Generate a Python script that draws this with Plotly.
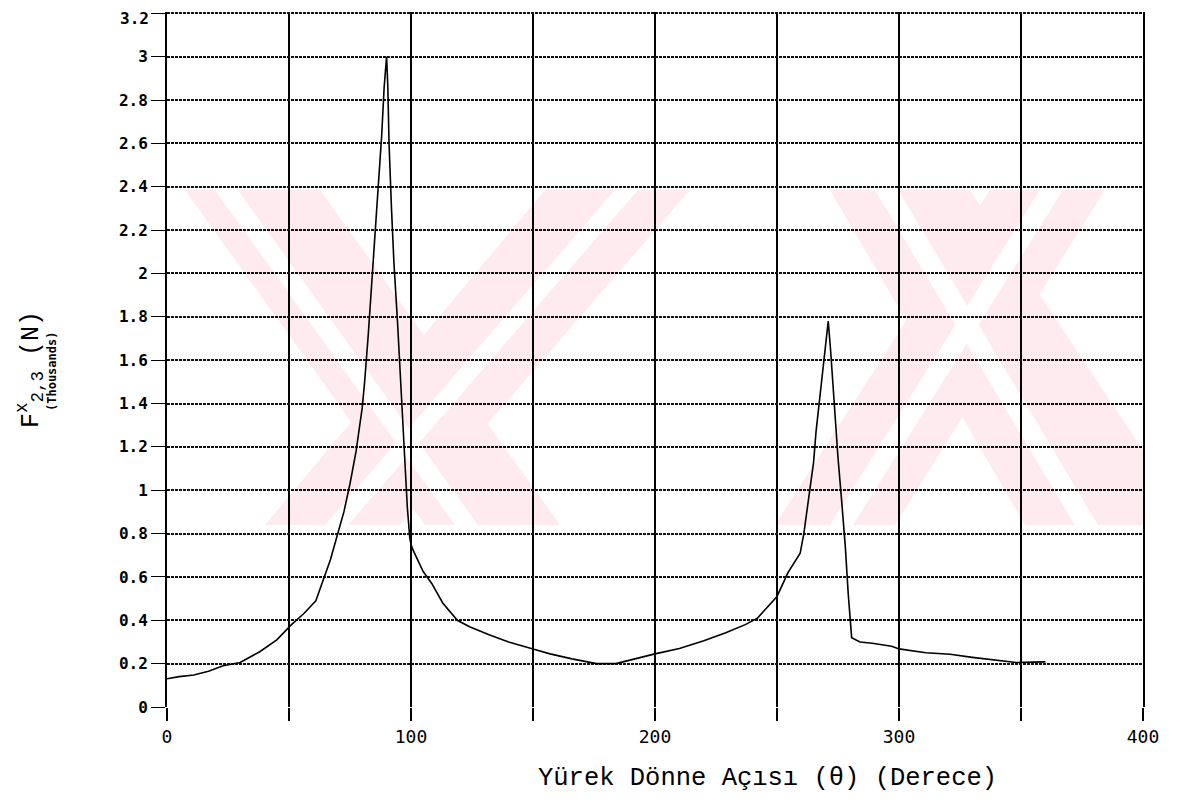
import plotly.graph_objects as go

# Crank angle (deg) and force F^x_{2,3} (thousands of N)
theta = [0, 5, 11, 17, 23, 30, 38, 45, 51, 56, 61, 64, 67, 70, 72.5, 75, 77.5,
         80, 81, 82.5, 84, 85.5, 87, 88, 89, 90,
         90.5, 91, 92, 93, 94.5, 96, 97, 98.5, 99.5, 100, 101, 105, 108.5, 113,
         119, 124, 132, 140, 150, 157, 166, 176, 184, 191, 200, 210, 220, 229,
         237, 242, 250, 254.5, 259.5, 261, 262, 263.5, 265, 266, 267.2, 268.6,
         270, 271, 272, 273.5, 275, 276.5, 278, 279.2, 280.6, 284, 289, 297,
         300, 311, 321, 330, 341, 348, 355, 360]
force = [0.13, 0.14, 0.148, 0.165, 0.19, 0.205, 0.255, 0.31, 0.38, 0.43, 0.49,
         0.59, 0.68, 0.80, 0.90, 1.03, 1.18,
         1.38, 1.5, 1.72, 1.96, 2.2, 2.45, 2.64, 2.86, 3.0,
         2.86, 2.6, 2.3, 2.05, 1.77, 1.46, 1.2, 0.92, 0.78, 0.75, 0.72, 0.625,
         0.57, 0.48, 0.40, 0.37, 0.333, 0.30, 0.268, 0.245, 0.222, 0.20, 0.20,
         0.22, 0.245, 0.27, 0.306, 0.343, 0.38, 0.41, 0.51, 0.62, 0.71, 0.80,
         0.88, 1.0, 1.13, 1.27, 1.39, 1.52, 1.65, 1.78, 1.64, 1.37, 1.15, 0.95,
         0.74, 0.52, 0.32, 0.30, 0.294, 0.28, 0.268, 0.25, 0.243, 0.229, 0.214,
         0.205, 0.207, 0.208]

x_tickvals = [0, 100, 200, 300, 400]
x_ticktext = ["0", "100", "200", "300", "400"]
x_minor_vals = [50, 150, 250, 350]
y_tickvals = [0, 0.2, 0.4, 0.6, 0.8, 1, 1.2, 1.4, 1.6, 1.8, 2, 2.2, 2.4, 2.6,
              2.8, 3, 3.2]
y_ticktext = ["0", "0.2", "0.4", "0.6", "0.8", "1", "1.2", "1.4", "1.6", "1.8",
              "2", "2.2", "2.4", "2.6", "2.8", "3", "3.2"]

OFF = 8  # page body margin
W, H = 1179 - OFF, 810 - OFF
# plot area in screenshot pixels: x 167..1143, y 12..707 (3.2 sits at ~14)
Y_TOP = 3.206
L, T = 167 - OFF, 12 - OFF
R, B = W - (1143 - OFF), H - (707 - OFF)
pw, ph = W - L - R, H - T - B

TICK_FONT = dict(family="DejaVu Sans Mono", size=16, color="black",
                 weight="bold")


def px(x, y):
    # screenshot pixel -> paper coords
    return (x - OFF - L) / pw, (H - B - (y - OFF)) / ph


def band(pts):
    cs = [px(x, y) for x, y in pts]
    return "M " + " L ".join(f"{a:.4f},{b:.4f}" for a, b in cs) + " Z"


wm_bands = [
    [(185, 190), (320, 190), (560, 525), (425, 525)],
    [(545, 190), (690, 190), (400, 525), (265, 525)],
    [(830, 190), (970, 190), (1143, 450), (1143, 525), (1025, 525)],
    [(990, 190), (1105, 190), (895, 525), (775, 525)],
]
wm_stripes = [
    [(215, 190), (238, 190), (478, 525), (455, 525)],
    [(615, 190), (638, 190), (348, 525), (325, 525)],
    [(875, 190), (898, 190), (1098, 525), (1075, 525)],
    [(1040, 190), (1063, 190), (853, 525), (830, 525)],
]

fig = go.Figure()
fig.add_trace(go.Scatter(x=theta, y=force, mode="lines",
                         line=dict(color="black", width=1.6),
                         showlegend=False, hoverinfo="skip"))

shapes = [dict(type="path", xref="paper", yref="paper", path=band(b),
               fillcolor="#fdebef", line=dict(width=0), layer="below")
          for b in wm_bands]
shapes += [dict(type="path", xref="paper", yref="paper", path=band(b),
                fillcolor="white", line=dict(width=0), layer="below")
           for b in wm_stripes]


def ann(text, x, y, size, family, angle=0, weight="normal"):
    ax, ay = px(x, y)
    return dict(text=text, xref="paper", yref="paper", x=ax, y=ay,
                showarrow=False, textangle=angle,
                font=dict(family=family, size=size, color="black",
                          weight=weight),
                xanchor="center", yanchor="middle")


# the top label would overflow the page edge and be hidden by plotly,
# so its grid/tick is a minor tick and its text an annotation at the top edge
top_label = dict(text=y_ticktext[-1], xref="paper", yref="paper",
                 x=0, y=1 + T / ph, xshift=-17, showarrow=False,
                 xanchor="right", yanchor="top", borderpad=0,
                 font=TICK_FONT)

fig.update_layout(
    width=W, height=H,
    margin=dict(l=L, r=R, t=T, b=B, autoexpand=False),
    paper_bgcolor="white", plot_bgcolor="white",
    shapes=shapes,
    xaxis=dict(range=[0, 400], tickvals=x_tickvals, ticktext=x_ticktext,
               showgrid=True, gridcolor="black", gridwidth=1.6,
               ticks="outside", ticklen=13, tickcolor="black", tickwidth=1.6,
               minor=dict(tickvals=x_minor_vals, showgrid=True,
                          gridcolor="black", gridwidth=1.6, ticks="outside",
                          ticklen=13, tickcolor="black", tickwidth=1.6),
               zeroline=False, showline=False, automargin=False,
               tickfont=dict(family="DejaVu Sans Mono", size=18, color="black"),
               fixedrange=True),
    yaxis=dict(range=[0, Y_TOP], tickvals=y_tickvals[:-1],
               ticktext=y_ticktext[:-1],
               showgrid=True, gridcolor="#111111", gridwidth=1.6,
               griddash="3px,1px",
               ticks="outside", ticklen=14, tickcolor="black", tickwidth=1.2,
               minor=dict(tickvals=y_tickvals[-1:], showgrid=True,
                          gridcolor="#111111", gridwidth=1.6,
                          griddash="3px,1px", ticks="outside", ticklen=14,
                          tickcolor="black", tickwidth=1.2),
               zeroline=False, showline=True, mirror=True,
               linecolor="black", linewidth=2, automargin=False,
               tickfont=TICK_FONT, fixedrange=True),
    annotations=[
        ann("Yürek Dönne Açısı (θ) (Derece)", 767, 778, 25.5, "Liberation Mono"),
        ann("F<sup>x</sup><sub>2,3</sub> (N)", 30, 370, 25, "Liberation Mono",
            -90),
        ann("(Thousands)", 52, 372, 12, "DejaVu Sans Mono", -90, "bold"),
        top_label,
    ],
)

fig.write_html("out.html")
